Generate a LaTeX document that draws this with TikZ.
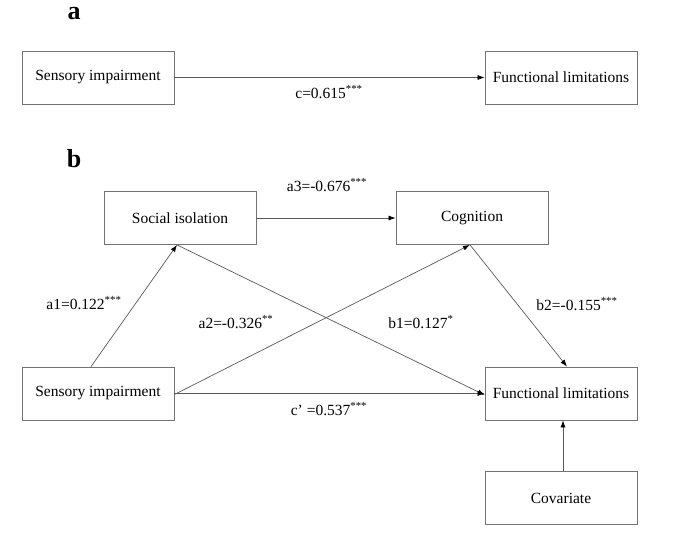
\documentclass[tikz,border=0pt]{standalone}
\usepackage{fontspec}
\setmainfont{Liberation Serif}
\usetikzlibrary{arrows.meta}
\begin{document}
\begin{tikzpicture}[x=1pt,y=-1pt,
  box/.style={draw=black!55,line width=0.8pt,minimum width=152pt,minimum height=53pt,inner sep=0pt,font=\fontsize{15.5}{18}\selectfont},
  lbl/.style={inner sep=0pt,font=\fontsize{15.5}{18}\selectfont},
  panel/.style={inner sep=0pt,font=\fontsize{26}{28}\selectfont\bfseries},
  conn/.style={draw=black!65,line width=0.7pt,-{Latex[length=7pt,width=5pt,fill=black,color=black]}}]
\useasboundingbox (0,0) rectangle (685,545);
% panel a
\node[panel] (pa) at (74,14) {a};
\node[box] (sa) at (98,77.5) {Sensory impairment};
\node[box] (fa) at (561,77.5) {Functional limitations};
\draw[conn] (sa.east) -- (fa.west);
\node[lbl] (lc) at (329,92) {c=0.615\textsuperscript{***}};
% panel b
\node[panel] (pb) at (74,159) {b};
\node[box] (si) at (180,218) {Social isolation};
\node[box] (cog) at (472,218) {Cognition};
\node[box] (sib) at (98,393.5) {Sensory impairment};
\node[box] (flb) at (561,393.5) {Functional limitations};
\node[box] (cov) at (561,498) {Covariate};
\draw[conn] (si.east) -- (cog.west);
\draw[conn] ([xshift=-7pt]sib.north) -- ([xshift=-3pt]si.south);
\draw[conn] ([yshift=-1pt]sib.east) -- ([xshift=-2pt]cog.south);
\draw[conn] ([xshift=-3pt]si.south) -- ([yshift=-1.5pt]flb.west);
\draw[conn] ([xshift=-2pt]cog.south) -- ([xshift=6pt]flb.north);
\draw[conn] (sib.east) -- (flb.west);
\draw[conn] ([xshift=2pt]cov.north) -- ([xshift=2pt]flb.south);
\node[lbl] (l3) at (327,185) {a3=-0.676\textsuperscript{***}};
\node[lbl] (l1) at (84,303) {a1=0.122\textsuperscript{***}};
\node[lbl] (l2) at (236,322) {a2=-0.326\textsuperscript{**}};
\node[lbl] (lb1) at (421,322) {b1=0.127\textsuperscript{*}};
\node[lbl] (lb2) at (577,304) {b2=-0.155\textsuperscript{***}};
\node[lbl] (lcp) at (329,409) {c’~=0.537\textsuperscript{***}};
\end{tikzpicture}
\end{document}
